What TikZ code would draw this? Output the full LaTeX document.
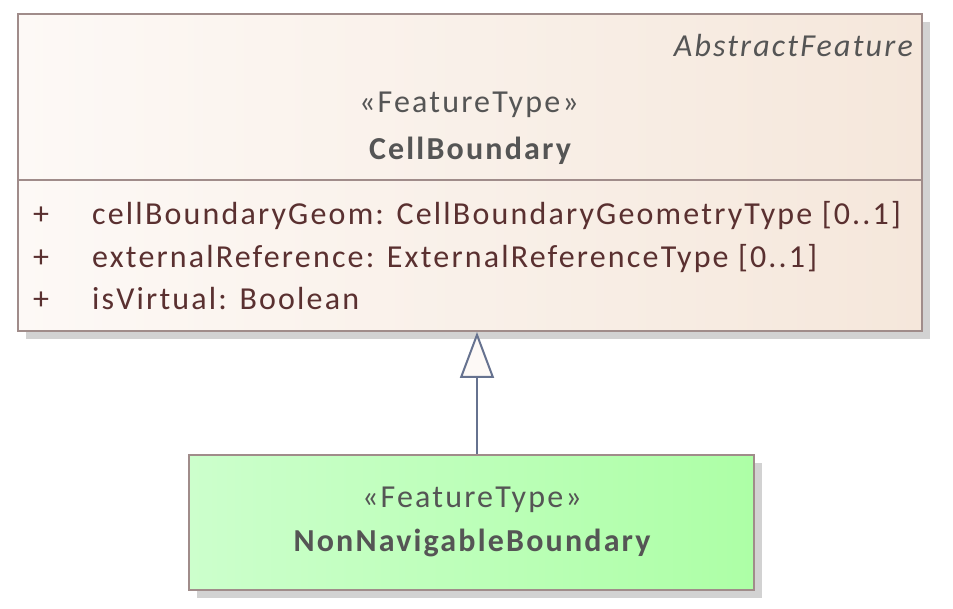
\documentclass[tikz,border=0pt]{standalone}
\usepackage{fontspec}
\setmainfont{Carlito}
\newfontfamily\umlfamily[LetterSpace=6.8]{Carlito}
\usetikzlibrary{positioning, arrows.meta, shadows}

\definecolor{umlborder}{HTML}{A08C8A}
\definecolor{umltext}{HTML}{555555}
\definecolor{umlattr}{HTML}{5A3030}
\definecolor{umlline}{HTML}{66728F}
\definecolor{featleft}{HTML}{FDF9F6}
\definecolor{featright}{HTML}{F5E7DB}
\definecolor{subleft}{HTML}{CCFFCC}
\definecolor{subright}{HTML}{ADFFA6}
\definecolor{umlshadow}{HTML}{D2D2D2}

\tikzset{
    classbox/.style={rectangle, draw=umlborder, line width=2pt, inner sep=0pt,
        drop shadow={shadow xshift=8pt, shadow yshift=-8pt, fill=umlshadow, opacity=1}},
    umlfont/.style={font=\umlfamily\fontsize{32}{37}\selectfont},
    stereo/.style={umlfont, text=umltext, anchor=base, inner sep=0pt},
    classname/.style={text=umltext, anchor=base, inner sep=0pt,
        font=\umlfamily\fontsize{32}{37}\selectfont\bfseries},
    attrtext/.style={umlfont, text=umlattr, anchor=base west, inner sep=0pt},
    generalization/.style={draw=umlline, line width=2pt,
        -{Triangle[length=46pt, width=34pt, fill=featleft]}}
}

\begin{document}
\begin{tikzpicture}[x=1pt, y=-1pt]
    \useasboundingbox (0,0) rectangle (953,609);

    % class boxes
    \node[classbox, left color=featleft, right color=featright,
        minimum width=904pt, minimum height=317pt] (cell) at (470,172.5) {};
    \node[classbox, left color=subleft, right color=subright,
        minimum width=565pt, minimum height=135pt] (nonnav) at (471.5,522.5) {};

    % compartment line
    \draw[umlborder, line width=2pt] (cell.north west) ++(0,167) coordinate (sepw) -- (sepw -| cell.east);

    % header of CellBoundary
    \node[text=umltext, anchor=base east, inner sep=0pt, font=\umlfamily\fontsize{32}{37}\selectfont\itshape]
        (abstract) at (913,57) {AbstractFeature};
    \node[stereo] (cellstereo) at (469,113) {«FeatureType»};
    \node[classname] (cellname) at (470,160) {CellBoundary};

    % attributes
    \foreach \attr [count=\i] in {
        {cellBoundaryGeom: CellBoundaryGeometryType [0..1]},
        {externalReference: ExternalReferenceType [0..1]},
        {isVirtual: Boolean}}
    {
        \node[attrtext] (vis\i) at (33, 225 + 42.5*\i - 42.5) {+};
        \node[attrtext] (attr\i) at (92, 225 + 42.5*\i - 42.5) {\attr};
    }

    % header of NonNavigableBoundary
    \node[stereo] (navstereo) at (472,507) {«FeatureType»};
    \node[classname] (navname) at (472,551) {NonNavigableBoundary};

    % generalization
    \draw[generalization] ([xshift=5.5pt]nonnav.north) -- ([xshift=5.5pt]nonnav.north |- cell.south);
\end{tikzpicture}
\end{document}
